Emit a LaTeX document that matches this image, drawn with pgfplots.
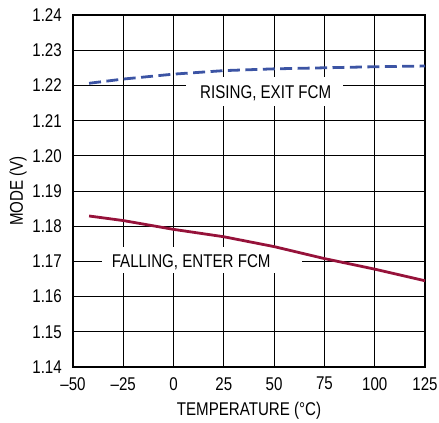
\documentclass[border=0pt]{standalone}
\usepackage{pgfplots}
\pgfplotsset{compat=1.18}
\usepackage{fontspec}
\setmainfont{Liberation Sans}[FakeStretch=0.82]
\definecolor{riseblue}{RGB}{60,84,164}
\definecolor{fallred}{RGB}{150,18,58}
\newcommand{\chartfont}{\fontsize{18.5}{21}\selectfont}
\begin{document}
\chartfont
\begin{tikzpicture}
\begin{axis}[
    scale only axis,
    width=352bp, height=352bp,
    xmin=-50, xmax=125, ymin=1.14, ymax=1.24,
    xtick={-50,-25,0,25,50,75,100,125},
    xticklabels={\textendash50,\textendash25,0,25,50,75,100,125},
    ytick={1.14,1.15,1.16,1.17,1.18,1.19,1.20,1.21,1.22,1.23,1.24},
    yticklabels={1.14,1.15,1.16,1.17,1.18,1.19,1.20,1.21,1.22,1.23,1.24},
    grid=major,
    major grid style={black, line width=0.9pt},
    major tick length=0pt,
    axis line style={black, line width=1.4pt},
    tick label style={font=\chartfont},
    yticklabel style={anchor=east, inner sep=0pt, xshift=-11bp},
    xticklabel style={anchor=north, inner sep=0pt, yshift=-10bp},
    xlabel={TEMPERATURE (°C)},
    ylabel={MODE (V)},
    label style={font=\chartfont},
    xlabel style={at={(axis description cs:0.5,0)}, anchor=north, inner sep=0pt, yshift=-35bp},
    ylabel style={at={(axis description cs:-0.1307,0.5)}, anchor=south, inner sep=0pt},
    clip=false,
]
\fill[white] (axis cs:6.2,1.21415) rectangle (axis cs:84.2,1.22239);
\fill[white] (axis cs:-35.7,1.16662) rectangle (axis cs:63.7,1.17418);
\addplot[riseblue, line width=2.8pt, dash pattern=on 12pt off 5.5pt] coordinates {
(-42,1.2206) (-25,1.2218) (0,1.2232) (25,1.2242) (50,1.2247) (75,1.2250) (100,1.2253) (125,1.2255)};
\addplot[fallred, line width=2.8pt] coordinates {
(-42,1.1829) (-25,1.1816) (0,1.1791) (25,1.1770) (50,1.1742) (75,1.1708) (100,1.1678) (125,1.1645)};
\node[anchor=base, inner sep=0pt] at (axis cs:45.8,1.21614) {RISING, EXIT FCM};
\node[anchor=base, inner sep=0pt] at (axis cs:8.76,1.16832) {FALLING, ENTER FCM};
\end{axis}
\pgfresetboundingbox
\path (-73bp,-56bp) rectangle (366bp,367bp);
\end{tikzpicture}
\end{document}
